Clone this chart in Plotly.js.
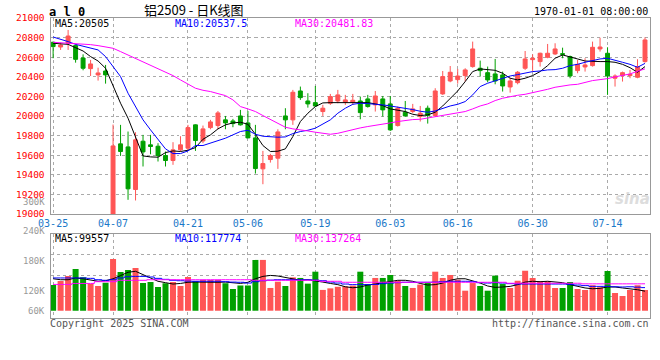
<!DOCTYPE html>
<html><head><meta charset="utf-8">
<script src="https://cdn.plot.ly/plotly-3.0.1.min.js"></script>
<style>html,body{margin:0;padding:0;background:#fff;}#chart{width:660px;height:360px;}</style>
</head><body><div id="chart"></div>
<script>
const dates = ['03-25','03-26','03-27','03-28','03-31','04-01','04-02','04-03','04-07','04-08',
'04-09','04-10','04-11','04-14','04-15','04-16','04-17','04-18','04-21','04-22',
'04-23','04-24','04-25','04-28','04-29','04-30','05-06','05-07','05-08','05-09',
'05-12','05-13','05-14','05-15','05-16','05-19','05-20','05-21','05-22','05-23',
'05-26','05-27','05-28','05-29','05-30','06-03','06-04','06-05','06-06','06-09',
'06-10','06-11','06-12','06-13','06-16','06-17','06-18','06-19','06-20','06-23',
'06-24','06-25','06-26','06-27','06-30','07-01','07-02','07-03','07-04','07-07',
'07-08','07-09','07-10','07-11','07-14','07-15','07-16','07-17','07-18','07-21'];
const openP = [20753,20705,20743,20719,20593,20484,20420,20460,19000,19716,
19685,19250,19743,19706,19692,19597,19546,19655,19672,19910,
19746,19882,19903,19961,19950,20001,19930,19777,19461,19556,
19570,20001,19961,20256,20154,20137,20046,20131,20154,20141,
20141,20154,20175,20114,20175,20124,19903,20039,20046,19995,
20080,20005,20226,20358,20372,20413,20505,20488,20443,20430,
20420,20297,20341,20488,20576,20556,20600,20634,20637,20607,
20464,20501,20515,20685,20641,20386,20413,20413,20396,20556];
const highP = [20760,20750,20879,20732,20630,20573,20494,20522,19913,19910,
19842,19835,19808,19808,19723,19638,19733,19794,19910,19915,
19903,19961,20052,20001,19971,20063,20052,19910,19644,19614,
19865,20080,20267,20301,20233,20307,20114,20226,20267,20216,
20226,20199,20216,20256,20205,20205,20097,20154,20124,20103,
20107,20284,20460,20511,20481,20488,20760,20566,20505,20583,
20454,20392,20460,20664,20630,20647,20736,20743,20698,20617,
20573,20590,20760,20800,20702,20426,20454,20471,20580,20804];
const lowP = [20590,20675,20675,20545,20467,20409,20362,20331,18990,19593,
19145,19138,19485,19610,19536,19485,19502,19638,19644,19644,
19723,19865,19865,19865,19886,19903,19774,19413,19304,19525,
19461,19865,19910,20165,20086,20097,20001,20114,20131,20114,
20114,19967,20086,20046,19995,19848,19893,19995,20029,19944,
19923,19995,20216,20345,20331,20352,20494,20403,20345,20324,
20250,20239,20324,20471,20454,20505,20590,20624,20590,20386,
20437,20454,20505,20658,20216,20301,20352,20386,20386,20545];
const closeP = [20709,20726,20817,20579,20488,20532,20440,20420,19695,19638,
19257,19757,19634,19689,19597,19546,19655,19706,19882,19750,
19869,19940,20032,19930,19923,19910,19777,19464,19515,19597,
19838,19961,20243,20188,20124,20103,20080,20199,20216,20165,
20161,20035,20097,20205,20063,19859,20080,20001,20073,20029,
20005,20256,20403,20447,20409,20471,20685,20464,20369,20358,
20307,20358,20447,20583,20590,20641,20641,20685,20630,20409,
20528,20522,20702,20705,20409,20409,20443,20426,20505,20777];
const ma5 = [20743,20736,20732,20698,20664,20607,20562,20488,20301,20131,
19978,19791,19593,19583,19580,19627,19644,19638,19651,19678,
19763,19808,19869,19910,19930,19937,19916,19814,19699,19638,
19641,19665,19791,19944,20029,20097,20134,20137,20137,20141,
20141,20144,20137,20124,20107,20073,20056,20046,20018,20005,
20012,20039,20103,20182,20256,20352,20454,20481,20477,20467,
20437,20386,20369,20386,20413,20454,20515,20590,20624,20607,
20583,20562,20556,20556,20556,20549,20528,20494,20447,20505];
const ma10 = [20807,20787,20760,20732,20712,20698,20675,20607,20505,20403,
20233,20097,19961,19859,19757,19665,19617,19617,19644,19699,
19699,19723,19750,19774,19808,19842,19855,19814,19794,19787,
19784,19787,19821,19842,19855,19876,19916,19961,20029,20080,
20120,20131,20127,20124,20114,20103,20093,20083,20066,20049,
20039,20052,20080,20103,20120,20148,20216,20301,20335,20358,
20386,20409,20423,20437,20454,20460,20471,20474,20488,20515,
20528,20549,20566,20583,20590,20573,20549,20528,20498,20537.5];
const ma30 = [20753,20749,20746,20743,20736,20729,20719,20709,20692,20658,
20624,20590,20556,20522,20488,20447,20413,20369,20324,20284,
20263,20250,20229,20209,20165,20097,20073,20046,20005,19967,
19927,19886,19869,19855,19848,19835,19821,19814,19824,19842,
19865,19879,19893,19903,19916,19930,19944,19957,19964,19967,
19981,19995,20005,20022,20039,20046,20073,20103,20124,20158,
20182,20199,20212,20222,20239,20250,20273,20294,20307,20318,
20324,20345,20362,20372,20382,20400,20415,20430,20457,20481.83];
const volume = [131000,151000,177000,213000,170000,136000,126000,143000,264000,197000,
208000,218000,141000,146000,121000,140000,146000,126000,172000,150000,
157000,157000,157000,140000,111000,128000,128000,259000,259000,116000,
148000,126000,170000,167000,138000,199000,106000,114000,122000,124000,
128000,199000,136000,167000,167000,182000,153000,126000,116000,133000,
141000,199000,167000,182000,158000,102000,141000,126000,102000,179000,
136000,116000,153000,204000,167000,150000,150000,116000,116000,146000,
111000,106000,130000,119000,202000,90000,75000,106000,130000,106000];
const volMa5 = [163000,158000,158000,167000,163000,158000,150000,153000,163000,179000,
196000,201000,184000,167000,150000,143000,136000,139000,145000,146000,
145000,145000,145000,146000,143000,139000,145000,163000,175000,180000,
177000,170000,163000,155000,158000,153000,146000,139000,133000,122000,
117000,121000,131000,136000,143000,151000,155000,155000,150000,139000,
131000,133000,141000,155000,163000,163000,153000,141000,126000,119000,
121000,124000,133000,146000,150000,148000,150000,148000,143000,133000,
124000,116000,112000,114000,121000,121000,116000,112000,107000,99557];
const volMa10 = [167000,167000,167000,167000,167000,165000,158000,155000,158000,167000,
173000,175000,175000,172000,165000,160000,155000,153000,151000,150000,
150000,150000,150000,148000,146000,145000,141000,148000,153000,156000,
158000,158000,158000,158000,158000,156000,153000,146000,141000,136000,
133000,133000,133000,134000,138000,141000,143000,145000,145000,145000,
145000,146000,148000,150000,150000,150000,148000,143000,141000,143000,
141000,138000,136000,136000,136000,136000,136000,136000,136000,134000,
131000,128000,124000,124000,124000,122000,121000,122000,120000,117774];
const volMa30 = [134000,134000,134000,139000,139000,139000,148000,148000,148000,155000,
155000,155000,155000,158000,158000,158000,158000,158000,158000,158000,
158000,158000,158000,158000,158000,158000,158000,155000,155000,155000,
155000,155000,155000,155000,155000,155000,150000,150000,150000,145000,
145000,145000,145000,145000,145000,145000,145000,145000,145000,145000,
145000,145000,145000,145000,145000,145000,145000,145000,145000,145000,
145000,140000,140000,140000,140000,140000,140000,140000,140000,140000,
140000,137000,137000,137000,137000,137000,137000,137000,137000,137264];
const xTicks = ['03-25','04-07','04-21','05-06','05-19','06-03','06-16','06-30','07-14'];
const priceTicks = [19000,19200,19400,19600,19800,20000,20200,20400,20600,20800,21000];
const volLabels = ['300K','240K','180K','120K','60K'];
const maLabels = ['MA5:20505','MA10:20537.5','MA30:20481.83'];
const volMaLabels = ['MA5:99557','MA10:117774','MA30:137264'];

const W = 660, H = 360;
const RED = '#ff5555', GREEN = '#00a000';
const MONO = 'DejaVu Sans Mono, Liberation Mono, monospace';
const px = v => v / W, py = v => 1 - v / H;

const volColors = closeP.map((c, i) => c >= openP[i] ? RED : GREEN);

const traces = [
  {type:'candlestick', x:dates, open:openP, high:highP, low:lowP, close:closeP,
   xaxis:'x', yaxis:'y', hoverinfo:'skip', whiskerwidth:0,
   increasing:{line:{color:RED,width:1}, fillcolor:RED},
   decreasing:{line:{color:GREEN,width:1}, fillcolor:GREEN}},
  {type:'scatter', mode:'lines', x:dates, y:ma5, xaxis:'x', yaxis:'y', line:{color:'#000000',width:1}, hoverinfo:'skip'},
  {type:'scatter', mode:'lines', x:dates, y:ma10, xaxis:'x', yaxis:'y', line:{color:'#0000ff',width:1}, hoverinfo:'skip'},
  {type:'scatter', mode:'lines', x:dates, y:ma30, xaxis:'x', yaxis:'y', line:{color:'#ff00ff',width:1}, hoverinfo:'skip'},
  {type:'bar', x:dates, y:volume, xaxis:'x2', yaxis:'y2', marker:{color:volColors, line:{width:0}}, hoverinfo:'skip'},
  {type:'scatter', mode:'lines', x:dates, y:volMa5, xaxis:'x2', yaxis:'y2', line:{color:'#000000',width:1}, hoverinfo:'skip'},
  {type:'scatter', mode:'lines', x:dates, y:volMa10, xaxis:'x2', yaxis:'y2', line:{color:'#0000ff',width:1,shape:'hvh'}, hoverinfo:'skip'},
  {type:'scatter', mode:'lines', x:dates, y:volMa30, xaxis:'x2', yaxis:'y2', line:{color:'#ff00ff',width:1,shape:'hvh'}, hoverinfo:'skip'}
];

const gridStyle = {showgrid:true, gridcolor:'#aaaaaa', griddash:'dot', gridwidth:1,
  showline:true, linecolor:'#999999', linewidth:1, mirror:true, zeroline:false, ticks:''};

const annotations = [];
function txt(text, x, y, opts) {
  annotations.push(Object.assign({text:text, xref:'paper', yref:'paper', x:px(x), y:py(y),
    showarrow:false, xanchor:'left', yanchor:'middle', borderpad:0,
    font:{family:MONO, size:10, color:'#000'}}, opts || {}));
}
txt('a l 0', 48, 11.5, {font:{family:MONO, size:12, color:'#000', weight:'bold'}});
txt('铝2509 - 日K线图', 194, 9.5, {xanchor:'center', font:{family:'Noto Sans CJK SC', size:13, color:'#000'}});
txt('1970-01-01 08:00:00', 649, 12, {xanchor:'right'});
txt(maLabels[0], 54, 23.5);
txt(maLabels[1], 174, 23.5, {font:{family:MONO, size:10, color:'#0000ff'}});
txt(maLabels[2], 294, 23.5, {font:{family:MONO, size:10, color:'#ff00ff'}});
txt(volMaLabels[0], 54, 238.5);
txt(volMaLabels[1], 174, 238.5, {font:{family:MONO, size:10, color:'#0000ff'}});
txt(volMaLabels[2], 294, 238.5, {font:{family:MONO, size:10, color:'#ff00ff'}});
const volLabelY = [201.5, 231, 261, 291, 311];
volLabels.forEach((t, i) => txt(t, 46, volLabelY[i], {xanchor:'right', font:{family:MONO, size:9, color:'#999999'}}));
txt('Copyright 2025 SINA.COM', 49, 323.5, {font:{family:MONO, size:10, color:'#555555'}});
txt('http://finance.sina.com.cn', 650, 323.5, {xanchor:'right', font:{family:MONO, size:10, color:'#555555'}});
txt('<i><b>sina</b></i>', 632, 199, {xanchor:'center', font:{family:'DejaVu Sans', size:15, color:'#dddddd'}});

const layout = {
  width:W, height:H, autosize:false,
  margin:{l:0, r:0, t:0, b:0, pad:0},
  paper_bgcolor:'#ffffff', plot_bgcolor:'#ffffff',
  showlegend:false, boxgap:0.25, bargap:0.2,
  font:{family:MONO, size:10},
  xaxis: Object.assign({}, gridStyle, {
    domain:[px(50.5), px(649.5)], anchor:'y', type:'category',
    categoryorder:'array', categoryarray:dates, range:[-0.35, 79.6],
    tickmode:'array', tickvals:xTicks, ticktext:xTicks,
    tickfont:{family:MONO, size:10, color:'#1a78c8'},
    rangeslider:{visible:false}, fixedrange:true, ticklabelstandoff:0}),
  yaxis: Object.assign({}, gridStyle, {
    domain:[py(214), py(18.1)], anchor:'x', range:[19000, 21000],
    tickmode:'array', tickvals:priceTicks, ticktext:priceTicks.map(String),
    tickfont:{family:MONO, size:9.5, color:'#ff0000'}, ticklabelstandoff:3}),
  xaxis2: Object.assign({}, gridStyle, {
    domain:[px(50.5), px(649.5)], anchor:'y2', type:'category', matches:'x',
    categoryorder:'array', categoryarray:dates,
    tickmode:'array', tickvals:xTicks, showticklabels:false}),
  yaxis2: Object.assign({}, gridStyle, {
    domain:[py(318), py(234)], anchor:'x2', range:[-37200, 391200],
    tickmode:'array', tickvals:[285600, 180500, 75000], showticklabels:false}),
  annotations: annotations
};

Plotly.newPlot('chart', traces, layout, {staticPlot:true, displayModeBar:false});
</script>
</body></html>
